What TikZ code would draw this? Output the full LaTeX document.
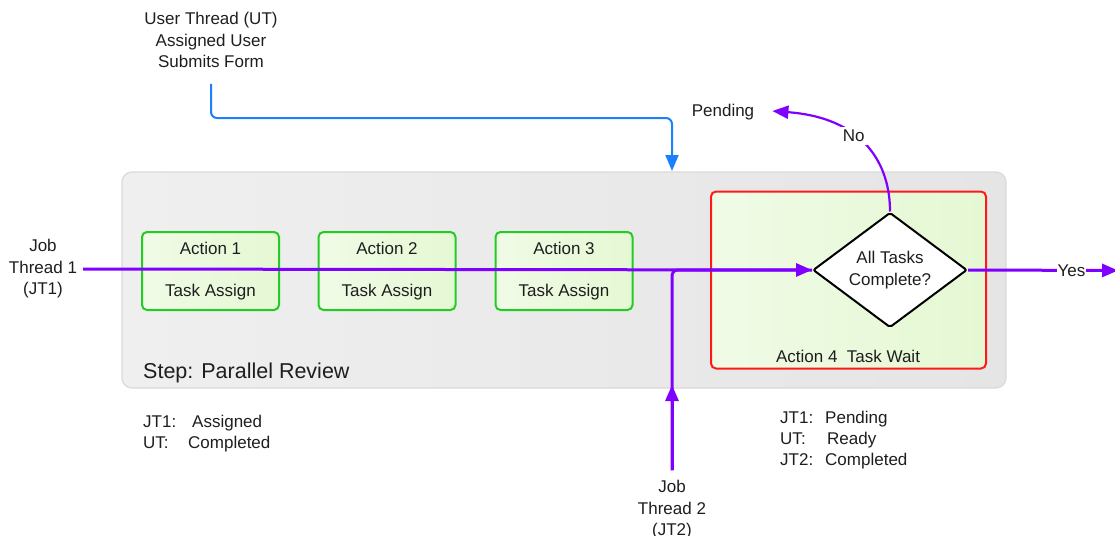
\documentclass[tikz,border=0pt]{standalone}
\usepackage{fontspec}
\setmainfont{Liberation Sans}
\usetikzlibrary{shapes.geometric,arrows.meta}
\definecolor{pl}{HTML}{7F00FF}
\definecolor{bl}{HTML}{1A80FF}
\definecolor{gr}{HTML}{22CC22}
\definecolor{rd}{HTML}{FF1A1A}
\definecolor{txtc}{HTML}{1E1E1E}
\definecolor{gfillA}{HTML}{F0FBE6}
\definecolor{gfillB}{HTML}{E5F8D3}
\definecolor{sfillA}{HTML}{EFEFEF}
\definecolor{sfillB}{HTML}{E5E5E5}
\definecolor{sbord}{HTML}{DADADA}
\tikzset{
  txt/.style={font=\fontsize{17}{21.5}\selectfont, text=txtc, inner sep=0pt, align=center},
  stxt/.style={font=\fontsize{17}{21.5}\selectfont, text=txtc, inner sep=0pt, anchor=base west},
  stepbox/.style={draw=sbord, line width=1.2pt, rounded corners=10pt, left color=sfillA, right color=sfillB, inner sep=0pt},
  actbox/.style={draw=gr, line width=2pt, rounded corners=5pt, left color=gfillA, right color=gfillB,
     minimum width=137pt, minimum height=78pt, inner sep=0pt, align=center,
     font=\fontsize{17}{21.5}\selectfont, text=txtc},
  redbox/.style={draw=rd, line width=2pt, rounded corners=5pt, left color=gfillA, right color=gfillB,
     minimum width=275pt, minimum height=177pt, inner sep=0pt},
  decision/.style={diamond, draw=black, line width=2pt, fill=white, rounded corners=2pt, aspect=1.34,
     minimum width=154pt, minimum height=115pt, inner sep=0pt, align=center,
     font=\fontsize{17}{21.5}\selectfont, text=txtc},
  pline/.style={draw=pl, line width=3pt},
  bline/.style={draw=bl, line width=2pt},
  tip/.style={-{Triangle[length=16pt,width=13pt]}},
}
\begin{document}
\begin{tikzpicture}[x=1pt,y=-1pt]
\useasboundingbox (0,0) rectangle (1115,535);
\clip (0,0) rectangle (1115,535);

% step container
\node[stepbox, minimum width=884pt, minimum height=216pt] (step) at (564,280) {};
\node[txt, font=\fontsize{21.5}{25}\selectfont, anchor=west] (steplbl) at (143,373) {Step: Parallel Review};

% action boxes
\node[actbox] (a1) at (210.5,271) {Action 1\\[21pt]Task Assign};
\node[actbox] (a2) at (387,271) {Action 2\\[21pt]Task Assign};
\node[actbox] (a3) at (564,271) {Action 3\\[21pt]Task Assign};

% action 4
\node[redbox] (a4) at (848.5,280) {};
\node[txt] (a4lbl) at (848,356) {Action 4\ \ Task Wait};
\node[decision] (dec) at (890,270) {All Tasks\\Complete?};

% texts
\node[txt] (jt1) at (43,269) {Job\\Thread 1\\(JT1)};
\node[txt] (ut) at (211,40) {User Thread (UT)\\Assigned User\\Submits Form};
\node[txt] (jt2) at (672,510) {Job\\Thread 2\\(JT2)};
\node[txt] (pend) at (723,112) {Pending};
\coordinate (utend) at (672,171);
\coordinate (yesend) at (1118,270.5);

% status texts
\node[stxt] (s1a) at (143,427) {JT1:};
\node[stxt] (s1b) at (192,427) {Assigned};
\node[stxt] (s2a) at (143,448) {UT:};
\node[stxt] (s2b) at (188,448) {Completed};
\node[stxt] (r1a) at (780,423) {JT1:};
\node[stxt] (r1b) at (825,423) {Pending};
\node[stxt] (r2a) at (780,444) {UT:};
\node[stxt] (r2b) at (827,444) {Ready};
\node[stxt] (r3a) at (780,465) {JT2:};
\node[stxt] (r3b) at (825,465) {Completed};

% blue user thread connector
\draw[bline, rounded corners=6pt, tip] ([yshift=-16pt]ut.south) |- (utend |- 0,118) -- (utend);

% job thread 2
\draw[pline, rounded corners=5pt] ([yshift=10pt]jt2.north) |- (dec.west);
\draw[pline, tip] ([yshift=10pt]jt2.north) -- (672,385);

% job thread 1
\draw[pline, tip] ([xshift=6pt]jt1.east) -- (dec.west);

% yes
\draw[pline, tip] (dec.east) -- (yesend) node[pos=0.69, txt, fill=white, inner xsep=1pt, inner ysep=2pt] (yes) {Yes};

% no
\draw[pline, line width=2.2pt, -{Triangle[length=16pt,width=13pt]}] (dec.north) .. controls (890,165) and (865,118) .. ([xshift=18pt,yshift=1pt]pend.east)
  node[pos=0.6, txt, fill=white, inner sep=3pt] (no) {No};
\end{tikzpicture}
\end{document}
